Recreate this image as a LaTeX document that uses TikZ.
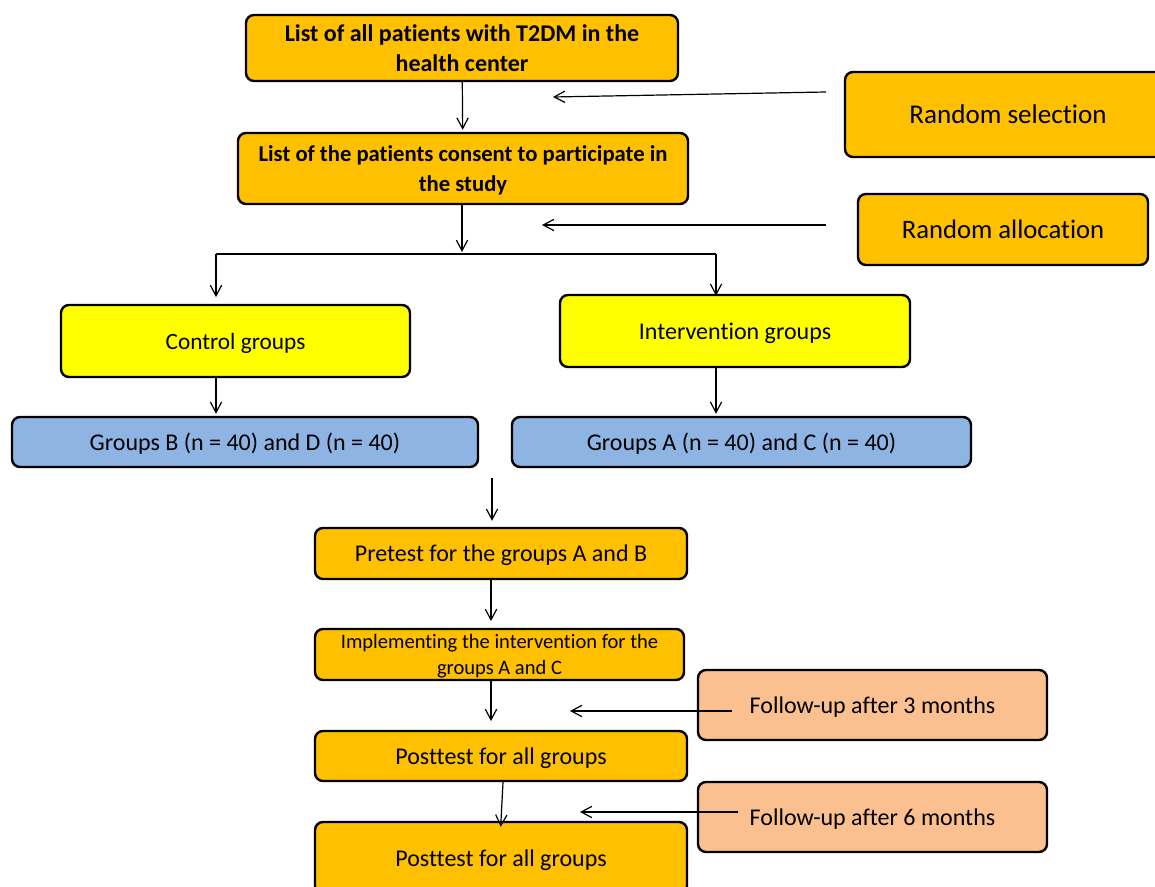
\documentclass[tikz,border=0pt]{standalone}
\usepackage{fontspec}
\setmainfont{Carlito}[Ligatures=NoCommon]
\usetikzlibrary{arrows.meta}
\definecolor{boxorange}{HTML}{FFC000}
\definecolor{boxyellow}{HTML}{FFFF00}
\definecolor{boxblue}{HTML}{8EB4E3}
\definecolor{boxpeach}{HTML}{FAC090}

\begin{document}
\begin{tikzpicture}[x=0.75pt,y=-0.75pt,
	box/.style={draw,line width=1.8pt,rounded corners=6pt,align=center,inner sep=0pt,text depth=0pt},
	arr/.style={line width=0.9pt,-{Straight Barb[length=8pt,width=8.5pt]}}]
		\clip (0,0) rectangle (1155,887);
		\coordinate (p_all) at (462,48);
		\coordinate (p_consent) at (463,168.5);
		\coordinate (p_sel) at (1008,114.5);
		\coordinate (p_alloc) at (1003,229.5);
		\coordinate (p_ctrl) at (235.5,341);
		\coordinate (p_interv) at (735,331);
		\coordinate (p_bd) at (245,442);
		\coordinate (p_ac) at (741.5,442);
		\coordinate (p_pre) at (501,553.5);
		\coordinate (p_impl) at (499.5,654.5);
		\coordinate (p_fu3) at (872.5,705);
		\coordinate (p_post1) at (501,756);
		\coordinate (p_fu6) at (872.5,817);
		\coordinate (p_post2) at (501,858);
		\node[box,fill=boxorange,minimum width=324pt,minimum height=49.5pt,font=\fontsize{18}{22.5}\selectfont\bfseries] (all) at (p_all) {List of all patients with T2DM in the\\health center};
		\node[box,fill=boxorange,minimum width=337.5pt,minimum height=53.25pt,font=\fontsize{17}{22}\selectfont\bfseries] (consent) at (p_consent) {List of the patients consent to participate in\\the study};
		\node[box,fill=boxorange,minimum width=244.5pt,minimum height=63.75pt,font=\fontsize{20.3}{24}\selectfont] (sel) at (p_sel) {Random selection};
		\node[box,fill=boxorange,minimum width=217.5pt,minimum height=53.25pt,font=\fontsize{20}{24}\selectfont] (alloc) at (p_alloc) {Random allocation};
		\node[box,fill=boxyellow,minimum width=261.75pt,minimum height=54pt,font=\fontsize{17.5}{21}\selectfont] (ctrl) at (p_ctrl) {Control groups};
		\node[box,fill=boxyellow,minimum width=262.5pt,minimum height=54pt,font=\fontsize{18}{21}\selectfont] (interv) at (p_interv) {Intervention groups};
		\node[box,fill=boxblue,minimum width=349.5pt,minimum height=37.5pt,font=\fontsize{18}{21}\selectfont] (bd) at (p_bd) {Groups B (n = 40) and D (n = 40)};
		\node[box,fill=boxblue,minimum width=344.25pt,minimum height=37.5pt,font=\fontsize{18}{21}\selectfont] (ac) at (p_ac) {Groups A (n = 40) and C (n = 40)};
		\node[box,fill=boxorange,minimum width=279pt,minimum height=38.25pt,font=\fontsize{18}{21}\selectfont] (pre) at (p_pre) {Pretest for the groups A and B};
		\node[box,fill=boxorange,minimum width=276.75pt,minimum height=38.25pt,font=\fontsize{15.4}{20}\selectfont] (impl) at (p_impl) {Implementing the intervention for the\\groups A and C};
		\node[box,fill=boxpeach,minimum width=261.75pt,minimum height=52.5pt,font=\fontsize{18}{21}\selectfont] (fu3) at (p_fu3) {Follow-up after 3 months};
		\node[box,fill=boxorange,minimum width=279pt,minimum height=37.5pt,font=\fontsize{18}{21}\selectfont] (post1) at (p_post1) {Posttest for all groups};
		\node[box,fill=boxpeach,minimum width=261.75pt,minimum height=52.5pt,font=\fontsize{18}{21}\selectfont] (fu6) at (p_fu6) {Follow-up after 6 months};
		\node[box,fill=boxorange,minimum width=279pt,minimum height=54pt,font=\fontsize{18}{21}\selectfont] (post2) at (p_post2) {Posttest for all groups};

		\coordinate (split) at (462,252);
		\coordinate (split_l) at (216,254);
		\coordinate (split_r) at (716,254);
		\coordinate (sel_from) at (826,92);
		\coordinate (sel_to) at (553,97);
		\coordinate (alloc_from) at (826,225);
		\coordinate (alloc_to) at (542,225);
		\coordinate (grp_out) at (492,478);
		\coordinate (fu3_from) at (732,711);
		\coordinate (fu3_to) at (570,711);
		\coordinate (fu6_from) at (738,812);
		\coordinate (fu6_to) at (580,812);

		\draw[arr,shorten >=1.5pt] (all) -- (consent);
		\draw[arr] (consent.south -| split) -- (split);
		\draw[line width=0.9pt] (split_l) -- (split_r);
		\draw[arr,shorten >=5pt] (split_l) -- (split_l |- ctrl.north);
		\draw[arr,shorten >=-1.5pt] (split_r) -- (split_r |- interv.north);
		\draw[arr,shorten >=1.5pt] (ctrl.south -| split_l) -- (bd.north -| split_l);
		\draw[arr,shorten >=1.5pt] (interv.south -| split_r) -- (ac.north -| split_r);
		\draw[arr] (sel_from) -- (sel_to);
		\draw[arr] (alloc_from) -- (alloc_to);
		\draw[arr,shorten >=4.5pt] (grp_out) -- (grp_out |- pre.north);
		\draw[arr,shorten >=5pt] (pre.south -| 491,0) -- (impl.north -| 491,0);
		\draw[arr,shorten >=6.5pt] (impl.south -| 491,0) -- (post1.north -| 491,0);
		\draw[arr,shorten >=-4.5pt] (post1.south -| 503,0) -- (post2.north -| 501,0);
		\draw[arr] (fu3_from) -- (fu3_to);
		\draw[arr] (fu6_from) -- (fu6_to);
	\end{tikzpicture}
\end{document}
